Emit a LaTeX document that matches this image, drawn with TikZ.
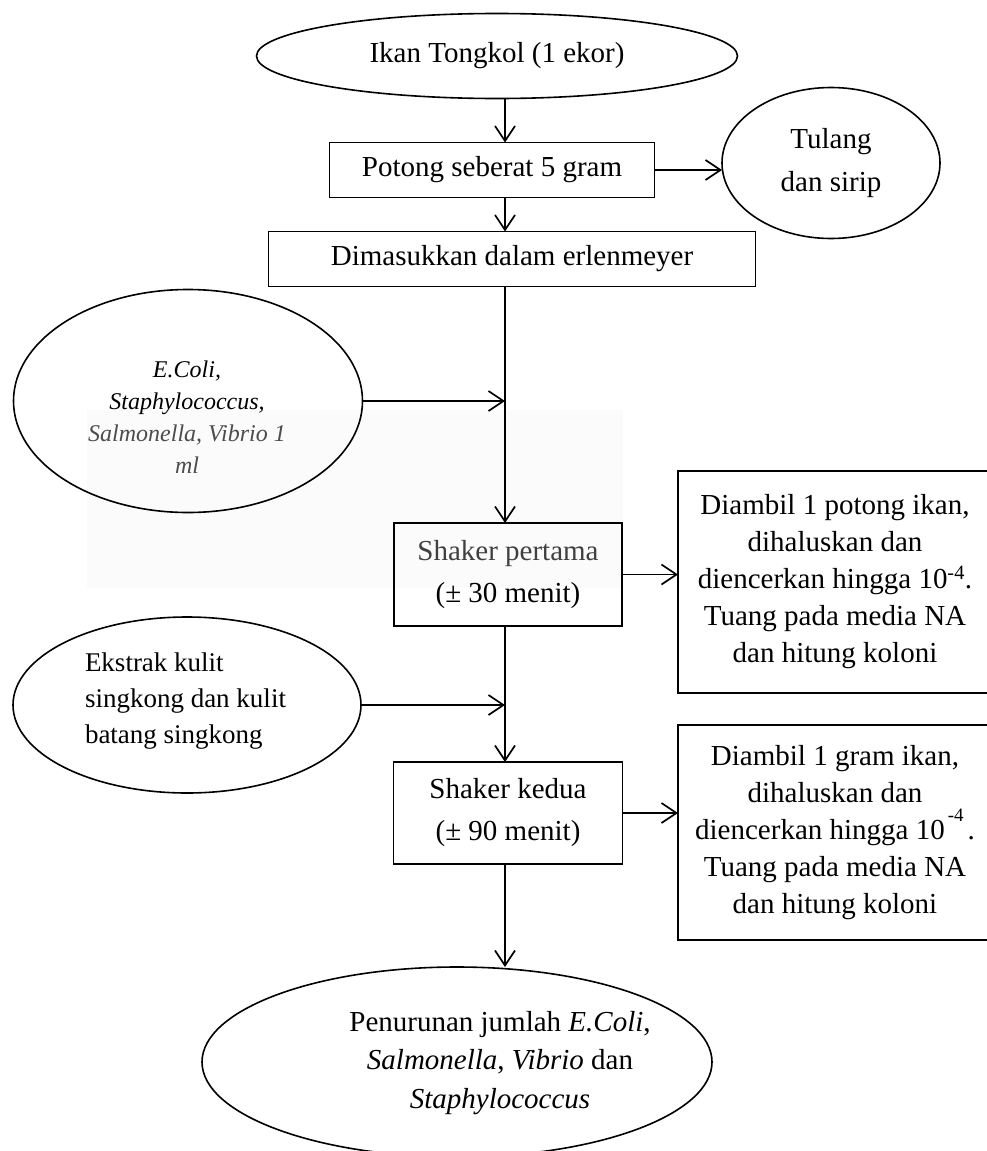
\documentclass[tikz,border=0pt]{standalone}
\usepackage{fontspec}
\setmainfont{Liberation Serif}
\usetikzlibrary{shapes.geometric,arrows.meta}
\begin{document}
\begin{tikzpicture}[x=1pt,y=-1pt,
  every node/.style={inner sep=0pt, outer sep=0pt},
  flow/.style={line width=1.7pt, -{Straight Barb[length=15pt,width=20pt,line width=1.7pt]}},
  proc/.style={draw, line width=1.5pt, rectangle, align=center, font=\fontsize{29}{37}\selectfont},
  oval/.style={draw, line width=1.6pt, ellipse, align=center, font=\fontsize{29}{37}\selectfont},
  txt/.style={align=center, font=\fontsize{29}{37}\selectfont},
]
\useasboundingbox (0,0) rectangle (987,1151);

% faint pasted panel behind the bacteria input
\fill[black!1.5] (87,410) rectangle (623,588);

% main column
\node[oval, minimum width=481pt, minimum height=85pt] (fish) at (497,56) {Ikan Tongkol (1 ekor)};
\node[proc, minimum width=325pt, minimum height=55pt] (cut) at (492,170) {Potong seberat 5 gram};
\node[oval, minimum width=218pt, minimum height=151pt, font=\fontsize{29}{43}\selectfont] (bone) at (831,163) {Tulang\\dan sirip};
\node[proc, minimum width=487pt, minimum height=55pt] (flask) at (512,259) {Dimasukkan dalam erlenmeyer};

% bacteria input
\node[oval, minimum width=349pt, minimum height=223pt] (bact) at (188,401) {};
\node[align=center, font=\itshape\fontsize{24}{32}\selectfont] (bacttxt) at (187,417)
  {E.Coli,\\Staphylococcus,\\\textcolor{black!70}{Salmonella, Vibrio 1}\\\textcolor{black!70}{ml}};

\node[proc, minimum width=228pt, minimum height=103pt, font=\fontsize{29}{42}\selectfont] (sh1) at (508,574.5)
  {\textcolor{black!75}{Shaker pertama}\\(± 30 menit)};
\node[proc, minimum width=314pt, minimum height=222pt] (obs1) at (835,582)
  {Diambil 1 potong ikan,\\dihaluskan dan\\diencerkan hingga 10\textsuperscript{-4}.\\Tuang pada media NA\\dan hitung koloni};

% extract input
\node[oval, minimum width=348pt, minimum height=176pt] (ext) at (187,705) {};
\node[align=left, anchor=west, font=\fontsize{27}{36}\selectfont] (exttxt) at (85,701)
  {Ekstrak kulit\\singkong dan kulit\\batang singkong};

\node[proc, minimum width=229pt, minimum height=102pt, font=\fontsize{29}{42}\selectfont] (sh2) at (508,813)
  {Shaker kedua\\(± 90 menit)};
\node[proc, minimum width=314pt, minimum height=215pt] (obs2) at (835,832.5)
  {Diambil 1 gram ikan,\\dihaluskan dan\\diencerkan hingga 10\hspace{3pt}\raisebox{18pt}{\fontsize{19}{19}\selectfont -4}\hspace{4pt}.\\Tuang pada media NA\\dan hitung koloni};

% result
\node[oval, minimum width=510pt, minimum height=190pt] (res) at (457,1062) {};
\node[txt, font=\fontsize{29}{38.5}\selectfont] (restxt) at (500,1063)
  {Penurunan jumlah \textit{E.Coli},\\\textit{Salmonella}, \textit{Vibrio} dan\\\textit{Staphylococcus}};

% connectors
\coordinate (spine) at (505,0);
\draw[flow] (fish.south -| spine) -- (cut.north -| spine);
\draw[flow] (cut.south -| spine) -- (flask.north -| spine);
\draw[flow] (cut.east) -- (cut.east -| bone.west);
\draw[flow] (flask.south -| spine) -- (sh1.north -| spine);
\draw[flow] (bact.east) -- (bact.east -| spine);
\draw[flow] (sh1.south -| spine) -- (sh2.north -| spine);
\draw[flow] (ext.east) -- (ext.east -| spine);
\draw[flow] (sh1.east) -- (sh1.east -| obs1.west);
\draw[flow] (sh2.east) -- (sh2.east -| obs2.west);
\draw[flow] (sh2.south -| spine) -- (res.north -| spine);
\end{tikzpicture}
\end{document}
